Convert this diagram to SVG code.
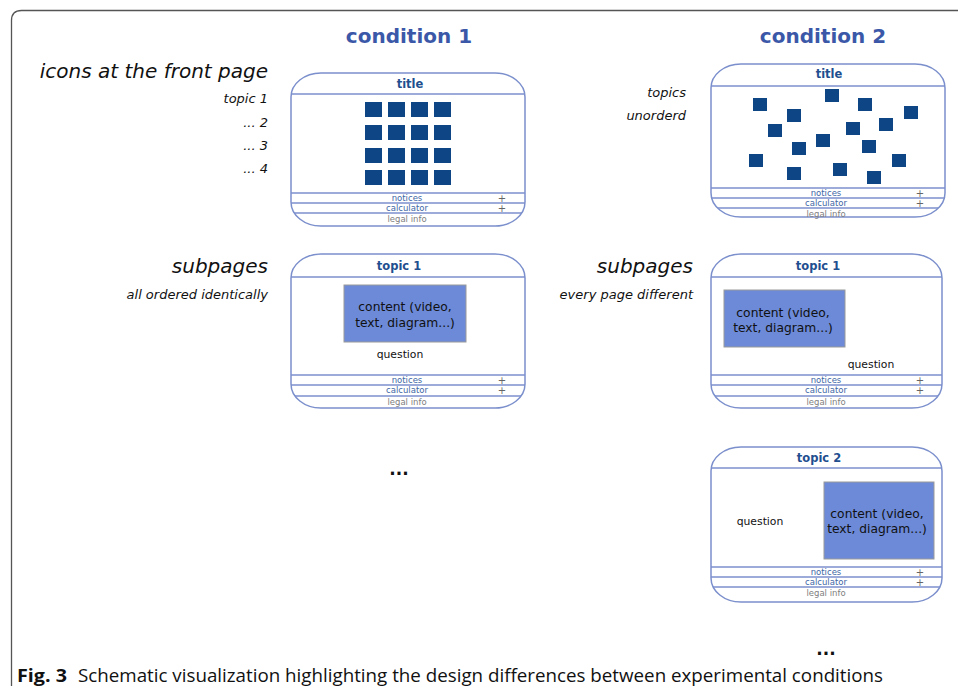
<svg xmlns="http://www.w3.org/2000/svg" width="958" height="693" viewBox="0 0 958 693">
<style>
.page{fill:#fff;stroke:#7b8fcc;stroke-width:1.5}
.ln{stroke:#7b8fcc;stroke-width:1.5}
.ptitle{font-family:"DejaVu Sans",Verdana,sans-serif;font-weight:bold;font-size:11.5px;fill:#1f4f8f;text-anchor:middle}
.ft{font-family:"DejaVu Sans",Verdana,sans-serif;font-size:8.5px;text-anchor:middle}
.blue{fill:#3e68a6}
.gray{fill:#808080}
.plus{font-family:"DejaVu Sans",sans-serif;font-size:10px;fill:#666;text-anchor:middle}
.sq{fill:#0e4585}
.cbox{fill:#6c8ad8;stroke:#9a9a9a;stroke-width:1}
.ct{font-family:"DejaVu Sans",Verdana,sans-serif;font-size:12.3px;fill:#111;text-anchor:middle}
.q{font-family:"DejaVu Sans",Verdana,sans-serif;font-size:10.8px;fill:#111;text-anchor:middle}
.cond{font-family:"DejaVu Sans",Verdana,sans-serif;font-weight:bold;font-size:20px;fill:#3b58a8;text-anchor:middle}
.big{font-family:"DejaVu Sans",Verdana,sans-serif;font-style:italic;font-size:20px;fill:#111;text-anchor:end}
.sm{font-family:"DejaVu Sans",Verdana,sans-serif;font-style:italic;font-size:13px;fill:#111;text-anchor:end}
.dots{font-family:"DejaVu Sans",sans-serif;font-weight:bold;font-size:17px;fill:#111;text-anchor:middle}
</style>
<defs>
<clipPath id="c1"><rect x="291" y="73" width="234" height="153" rx="30" ry="24"/></clipPath>
<clipPath id="c2"><rect x="711" y="64" width="234" height="153" rx="30" ry="24"/></clipPath>
<clipPath id="c3"><rect x="291" y="254" width="234" height="154" rx="30" ry="24"/></clipPath>
<clipPath id="c4"><rect x="711" y="254" width="231" height="154" rx="30" ry="24"/></clipPath>
<clipPath id="c5"><rect x="711" y="447" width="231" height="155" rx="30" ry="24"/></clipPath>
</defs>
<rect width="958" height="693" fill="#fff"/>
<path d="M11.5,686 L11.5,20.5 Q11.5,10.5 21.5,10.5 L958,10.5" fill="none" stroke="#555" stroke-width="1.3"/>

<g id="headings">
<text class="cond" x="409" y="43">condition 1</text>
<text class="cond" x="823" y="43">condition 2</text>
</g>

<g id="labels-left">
<text class="big" x="268" y="78">icons at the front page</text>
<text class="sm" x="268" y="103">topic 1</text>
<text class="sm" x="268" y="127">... 2</text>
<text class="sm" x="268" y="150">... 3</text>
<text class="sm" x="268" y="173">... 4</text>
<text class="big" x="268" y="273">subpages</text>
<text class="sm" x="268" y="299">all ordered identically</text>
</g>
<g id="labels-right">
<text class="sm" x="686" y="97">topics</text>
<text class="sm" x="686" y="120">unorderd</text>
<text class="big" x="693" y="273">subpages</text>
<text class="sm" x="693" y="299">every page different</text>
</g>

<g id="page-front-1">
<rect class="page" x="291" y="73" width="234" height="153" rx="30" ry="24"/>
<g clip-path="url(#c1)">
<line class="ln" x1="291" y1="94" x2="525" y2="94"/>
<line class="ln" x1="291" y1="193" x2="525" y2="193"/>
<line class="ln" x1="291" y1="203" x2="525" y2="203"/>
<line class="ln" x1="291" y1="213" x2="525" y2="213"/>
</g>
<text class="ptitle" x="410" y="88">title</text>
<g class="sq">
<rect x="365" y="102" width="17" height="15"/><rect x="388" y="102" width="17" height="15"/><rect x="411" y="102" width="17" height="15"/><rect x="434" y="102" width="17" height="15"/>
<rect x="365" y="125" width="17" height="15"/><rect x="388" y="125" width="17" height="15"/><rect x="411" y="125" width="17" height="15"/><rect x="434" y="125" width="17" height="15"/>
<rect x="365" y="148" width="17" height="15"/><rect x="388" y="148" width="17" height="15"/><rect x="411" y="148" width="17" height="15"/><rect x="434" y="148" width="17" height="15"/>
<rect x="365" y="170" width="17" height="15"/><rect x="388" y="170" width="17" height="15"/><rect x="411" y="170" width="17" height="15"/><rect x="434" y="170" width="17" height="15"/>
</g>
<text class="ft blue" x="407" y="201">notices</text>
<text class="ft blue" x="407" y="211">calculator</text>
<text class="ft gray" x="407" y="222">legal info</text>
<text class="plus" x="502" y="202">+</text>
<text class="plus" x="502" y="212">+</text>
</g>

<g id="page-front-2">
<rect class="page" x="711" y="64" width="234" height="153" rx="30" ry="24"/>
<g clip-path="url(#c2)">
<line class="ln" x1="711" y1="86" x2="945" y2="86"/>
<line class="ln" x1="711" y1="188" x2="945" y2="188"/>
<line class="ln" x1="711" y1="198" x2="945" y2="198"/>
<line class="ln" x1="711" y1="208" x2="945" y2="208"/>
</g>
<text class="ptitle" x="829" y="78">title</text>
<g class="sq">
<rect x="753" y="98" width="14" height="13"/>
<rect x="825" y="89" width="14" height="13"/>
<rect x="858" y="98" width="14" height="13"/>
<rect x="904" y="106" width="14" height="13"/>
<rect x="787" y="109" width="14" height="13"/>
<rect x="768" y="124" width="14" height="13"/>
<rect x="846" y="122" width="14" height="13"/>
<rect x="879" y="118" width="14" height="13"/>
<rect x="816" y="134" width="14" height="13"/>
<rect x="792" y="142" width="14" height="13"/>
<rect x="862" y="140" width="14" height="13"/>
<rect x="749" y="154" width="14" height="13"/>
<rect x="892" y="154" width="14" height="13"/>
<rect x="787" y="167" width="14" height="13"/>
<rect x="833" y="163" width="14" height="13"/>
<rect x="867" y="171" width="14" height="13"/>
</g>
<text class="ft blue" x="826" y="196">notices</text>
<text class="ft blue" x="826" y="206">calculator</text>
<text class="ft gray" x="826" y="217">legal info</text>
<text class="plus" x="920" y="197">+</text>
<text class="plus" x="920" y="207">+</text>
</g>

<g id="page-sub-1">
<rect class="page" x="291" y="254" width="234" height="154" rx="30" ry="24"/>
<g clip-path="url(#c3)">
<line class="ln" x1="291" y1="277" x2="525" y2="277"/>
<line class="ln" x1="291" y1="375" x2="525" y2="375"/>
<line class="ln" x1="291" y1="385" x2="525" y2="385"/>
<line class="ln" x1="291" y1="396" x2="525" y2="396"/>
</g>
<text class="ptitle" x="399" y="270">topic 1</text>
<rect class="cbox" x="344" y="285" width="122" height="57"/>
<text class="ct" x="405" y="311">content (video,</text>
<text class="ct" x="405" y="327">text, diagram...)</text>
<text class="q" x="400" y="358">question</text>
<text class="ft blue" x="407" y="383">notices</text>
<text class="ft blue" x="407" y="393">calculator</text>
<text class="ft gray" x="407" y="405">legal info</text>
<text class="plus" x="502" y="384">+</text>
<text class="plus" x="502" y="394">+</text>
</g>

<g id="page-sub-2">
<rect class="page" x="711" y="254" width="231" height="154" rx="30" ry="24"/>
<g clip-path="url(#c4)">
<line class="ln" x1="711" y1="277" x2="942" y2="277"/>
<line class="ln" x1="711" y1="375" x2="942" y2="375"/>
<line class="ln" x1="711" y1="385" x2="942" y2="385"/>
<line class="ln" x1="711" y1="396" x2="942" y2="396"/>
</g>
<text class="ptitle" x="818" y="270">topic 1</text>
<rect class="cbox" x="724" y="290" width="121" height="57"/>
<text class="ct" x="783" y="317">content (video,</text>
<text class="ct" x="783" y="332">text, diagram...)</text>
<text class="q" x="871" y="368">question</text>
<text class="ft blue" x="826" y="383">notices</text>
<text class="ft blue" x="826" y="393">calculator</text>
<text class="ft gray" x="826" y="405">legal info</text>
<text class="plus" x="920" y="384">+</text>
<text class="plus" x="920" y="394">+</text>
</g>

<g id="page-sub-3">
<rect class="page" x="711" y="447" width="231" height="155" rx="30" ry="24"/>
<g clip-path="url(#c5)">
<line class="ln" x1="711" y1="468" x2="942" y2="468"/>
<line class="ln" x1="711" y1="567" x2="942" y2="567"/>
<line class="ln" x1="711" y1="577" x2="942" y2="577"/>
<line class="ln" x1="711" y1="587" x2="942" y2="587"/>
</g>
<text class="ptitle" x="819" y="462">topic 2</text>
<rect class="cbox" x="824" y="482" width="110" height="77"/>
<text class="ct" x="877" y="518">content (video,</text>
<text class="ct" x="877" y="533">text, diagram...)</text>
<text class="q" x="760" y="525">question</text>
<text class="ft blue" x="826" y="575">notices</text>
<text class="ft blue" x="826" y="585">calculator</text>
<text class="ft gray" x="826" y="596">legal info</text>
<text class="plus" x="920" y="576">+</text>
<text class="plus" x="920" y="586">+</text>
</g>

<g id="ellipses">
<text class="dots" x="399" y="475">...</text>
<text class="dots" x="826" y="655">...</text>
</g>

<g id="connectors"></g>

<g id="caption">
<text x="17" y="682" font-family="'Open Sans','Liberation Sans',sans-serif" font-size="18" font-weight="bold" fill="#111" textLength="50" lengthAdjust="spacingAndGlyphs">Fig. 3</text>
<text x="78" y="682" font-family="'Open Sans','Liberation Sans',sans-serif" font-size="18" fill="#111" textLength="805" lengthAdjust="spacingAndGlyphs">Schematic visualization highlighting the design differences between experimental conditions</text>
</g>
</svg>
